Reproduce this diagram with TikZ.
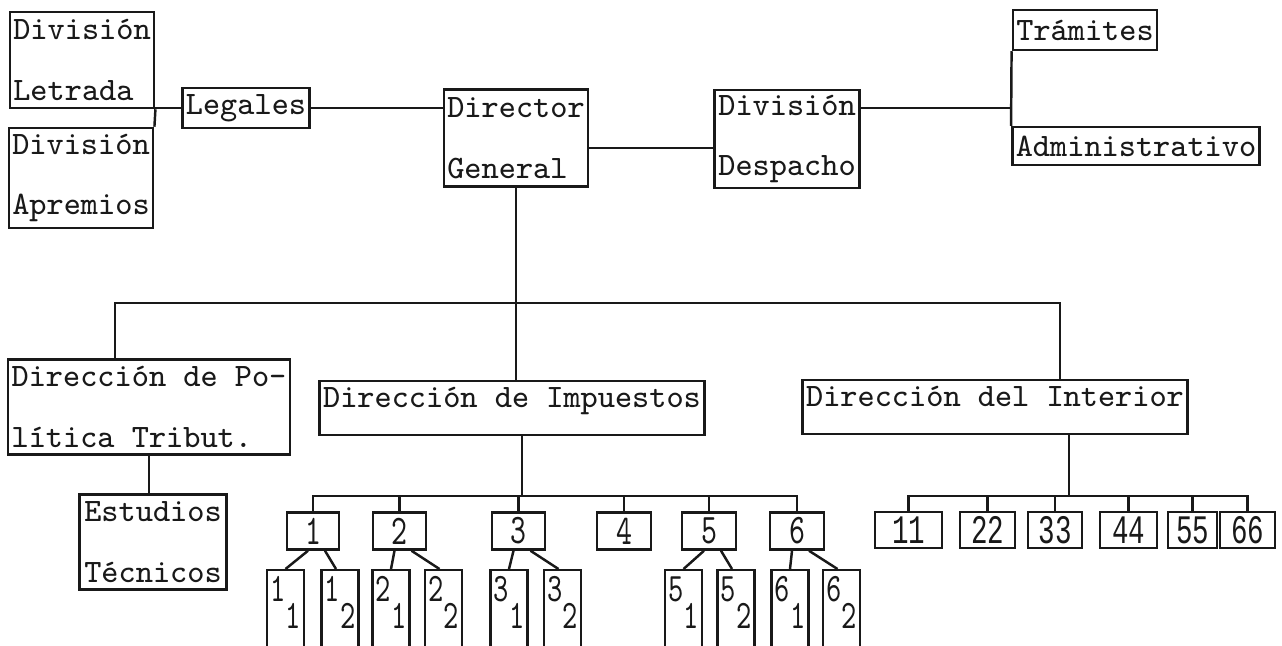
\documentclass[tikz,border=0pt]{standalone}
\usepackage{fontspec}
\newfontfamily\digitfont[FakeStretch=0.72]{lmmono10-regular.otf}
\newfontfamily\gothicdigits[FakeStretch=0.68]{Liberation Mono}
\usetikzlibrary{positioning}
\definecolor{ink}{RGB}{25,25,25}

\begin{document}
\begin{tikzpicture}[x=0.01cm, y=-0.01cm, line width=0.7pt, color=ink,
    unit/.style={draw, font=\ttfamily\fontsize{9.3}{17.3}\selectfont,
                 align=left, inner sep=1pt},
    wide/.style={unit, text height=6.5pt, text depth=7pt},
    num/.style={draw, font=\digitfont\fontsize{12}{12}\selectfont,
                inner sep=0pt, minimum height=0.37cm},
    sub/.style={draw, font=\digitfont\fontsize{11.5}{11.5}\selectfont,
                inner sep=0pt, anchor=north, minimum width=0.37cm,
                text height=9pt, text depth=24pt}]
  \useasboundingbox (0,0) rectangle (1282,645);
  \clip (0,0) rectangle (1282,645);
  \fill[white] (0,0) rectangle (1282,645);

  % top row
  \node[unit, minimum width=1.40cm, minimum height=0.96cm] (Letrada) at (82,60)
    {División\\Letrada};
  \node[unit, minimum width=1.38cm, minimum height=1.00cm] (Apremios) at (81,178)
    {División\\Apremios};
  \node[unit, minimum width=1.22cm, minimum height=0.40cm] (Legales) at (246,108)
    {Legales};
  \node[unit, minimum width=1.42cm, minimum height=0.97cm] (Director) at (516,138)
    {Director\\General};
  \node[unit, minimum width=1.45cm, minimum height=0.98cm] (Despacho) at (787,139)
    {División\\Despacho};
  \node[unit, minimum width=1.42cm, minimum height=0.40cm] (Tramites) at (1085,30)
    {Trámites};
  \node[unit, minimum width=2.45cm, minimum height=0.38cm] (Admin) at (1136,146)
    {Administrativo};

  \draw (Letrada.south east) -- (Apremios.north east);
  \draw (Legales.west) -- (Legales.west -| Letrada.east);
  \draw (Legales.east) -- (Legales.east -| Director.west);
  \draw ([yshift=-0.10cm]Director.east) -- ([yshift=-0.10cm]Director.east -| Despacho.west);
  \draw ([yshift=0.31cm]Despacho.east) -- ([yshift=0.31cm]Despacho.east -| Admin.west);
  \draw (Tramites.south west) -- (Admin.north west);

  % direcciones
  \node[unit, minimum width=2.78cm, minimum height=0.95cm] (Politica) at (149,407)
    {Dirección de Po-\\lítica Tribut.};
  \node[wide, minimum width=3.81cm] (Impuestos) at (512,408)
    {Dirección de Impuestos};
  \node[wide, minimum width=3.84cm] (Interior) at (995,407)
    {Dirección del Interior};
  \node[unit, minimum width=1.47cm, minimum height=0.95cm] (Estudios) at (153,542)
    {Estudios\\Técnicos};

  \coordinate (busL) at (115,303);
  \coordinate (busR) at (1060,303);
  \draw (Director.south) -- (Director.south |- Impuestos.north);
  \draw (busL |- Politica.north) -- (busL) -- (busR) -- (busR |- Interior.north);
  \draw (Politica.south) -- (Politica.south |- Estudios.north);

  % departamentos de impuestos
  \foreach \n/\x/\w in {1/313/.52, 2/399.5/.53, 3/518.5/.53,
                        4/624/.54, 5/709/.54, 6/797/.54}
    \node[num, minimum width=\w cm] (I\n) at (\x,531) {\n};

  \foreach \k/\a/\b in {1/285.5/340, 2/391/443.5, 3/509/562.5,
                        5/683.5/736, 6/790/841.5}{
    \node[sub] (S\k1) at (\a,569) {\k\raisebox{-7.5pt}{1}};
    \node[sub] (S\k2) at (\b,569) {\k\raisebox{-7.5pt}{2}};
    \draw ([xshift=-0.05cm]I\k.south) -- (S\k1.north);
    \draw ([xshift=0.12cm]I\k.south) -- ([xshift=-0.04cm]S\k2.north);
  }

  \coordinate (impbus) at (522,496);
  \draw (impbus |- Impuestos.south) -- (impbus);
  \draw (I1.north) -- (I1.north |- impbus) -- (I6.north |- impbus) -- (I6.north);
  \foreach \n in {2,...,5}
    \draw (I\n.north) -- (I\n.north |- impbus);

  % departamentos del interior
  \foreach \n/\x/\w in {1/908.5/.67, 2/987.5/.55, 3/1055/.54,
                        4/1128.5/.57, 5/1192.5/.49, 6/1247.5/.55}
    \node[num, font=\gothicdigits\fontsize{11.5}{11.5}\selectfont,
          minimum width=\w cm, minimum height=0.36cm] (D\n) at (\x,530) {\n\n};

  \coordinate (intbus) at (1069,496);
  \draw (intbus |- Interior.south) -- (intbus);
  \draw (D1.north) -- (D1.north |- intbus) -- (D6.north |- intbus) -- (D6.north);
  \foreach \n in {2,...,5}
    \draw (D\n.north) -- (D\n.north |- intbus);
\end{tikzpicture}
\end{document}
